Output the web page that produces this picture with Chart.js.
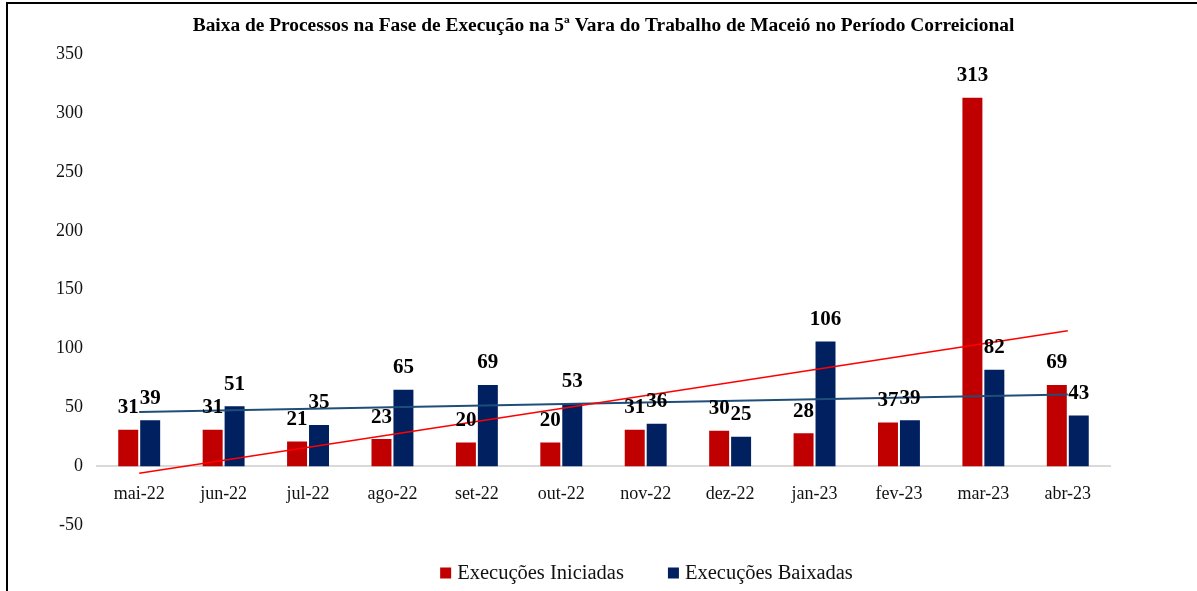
<!DOCTYPE html>
<html lang="pt-BR">
<head>
<meta charset="utf-8">
<title>Baixa de Processos - 5ª Vara do Trabalho de Maceió</title>
<script src="https://cdn.jsdelivr.net/npm/chart.js@4.4.1/dist/chart.umd.min.js"></script>
<style>
  html, body { margin: 0; padding: 0; background: #fff; }
  #quadro { position: absolute; left: 0; top: 0; width: 1197px; height: 591px; }
  #moldura {
    position: absolute; left: 6px; top: 2px; right: 0; bottom: 0;
    border-left: 2px solid #000; border-top: 2px solid #000;
    pointer-events: none;
  }
</style>
</head>
<body>
<div id="quadro">
  <canvas id="grafico" width="1197" height="591"></canvas>
  <div id="moldura"></div>
</div>
<script>
// meses do período correicional
const meses = ['mai-22', 'jun-22', 'jul-22', 'ago-22', 'set-22', 'out-22',
               'nov-22', 'dez-22', 'jan-23', 'fev-23', 'mar-23', 'abr-23'];

// quantidades por mês
const iniciadas = [31, 31, 21, 23, 20, 20, 31, 30, 28, 37, 313, 69];
const baixadas  = [39, 51, 35, 65, 69, 53, 36, 25, 106, 39, 82, 43];

// linhas de tendência (valor no primeiro e no último mês)
const tendIniciadas = [-6, 115];
const tendBaixadas  = [46, 61];

// eixo y
const yMin = -50, yMax = 350, yPasso = 50;

const vermelho = '#C00000';
const azul = '#002060';

Chart.defaults.font.family = '"Liberation Serif", "Times New Roman", serif';
Chart.defaults.color = '#111';

// rótulos com o valor em cima de cada barra
const rotulos = {
  id: 'rotulos',
  afterDatasetsDraw(chart) {
    const ctx = chart.ctx;
    ctx.save();
    ctx.font = 'bold 21px "Liberation Serif", serif';
    ctx.fillStyle = '#000';
    ctx.textAlign = 'center';
    ctx.textBaseline = 'middle';
    chart.data.datasets.forEach((ds, i) => {
      if (ds.type !== 'bar') return;
      chart.getDatasetMeta(i).data.forEach((barra, j) => {
        ctx.fillText(String(ds.data[j]), barra.x, barra.y - 22);
      });
    });
    ctx.restore();
  }
};

// legenda desenhada à mão, só com as séries de barras
const legenda = {
  id: 'legenda',
  afterDraw(chart) {
    const ctx = chart.ctx;
    const itens = chart.data.datasets.filter(ds => ds.type === 'bar');
    const caixa = 11, folga = 6, entre = 44;
    ctx.save();
    ctx.font = '20.5px "Liberation Serif", serif';
    ctx.textBaseline = 'middle';
    let total = 0;
    itens.forEach((ds, i) => {
      total += caixa + folga + ctx.measureText(ds.label).width;
      if (i > 0) total += entre;
    });
    const area = chart.chartArea;
    let x = (area.left + area.right) / 2 + 43 - total / 2;
    const y = 573;
    itens.forEach(ds => {
      ctx.fillStyle = ds.backgroundColor;
      ctx.fillRect(x, y - caixa / 2, caixa, caixa);
      x += caixa + folga;
      ctx.fillStyle = '#111';
      ctx.fillText(ds.label, x, y + 1);
      x += ctx.measureText(ds.label).width + entre;
    });
    ctx.restore();
  }
};

new Chart(document.getElementById('grafico'), {
  data: {
    labels: meses,
    datasets: [
      {
        type: 'line',
        label: 'Tendência Iniciadas',
        data: [
          { x: meses[0], y: tendIniciadas[0] },
          { x: meses[meses.length - 1], y: tendIniciadas[1] }
        ],
        borderColor: '#FF0000',
        borderWidth: 1.6,
        pointRadius: 0,
        order: 0
      },
      {
        type: 'line',
        label: 'Tendência Baixadas',
        data: [
          { x: meses[0], y: tendBaixadas[0] },
          { x: meses[meses.length - 1], y: tendBaixadas[1] }
        ],
        borderColor: '#1F4E79',
        borderWidth: 2,
        pointRadius: 0,
        order: 0
      },
      {
        type: 'bar',
        label: 'Execuções Iniciadas',
        data: iniciadas,
        backgroundColor: vermelho,
        categoryPercentage: 0.52,
        barPercentage: 0.91,
        order: 1
      },
      {
        type: 'bar',
        label: 'Execuções Baixadas',
        data: baixadas,
        backgroundColor: azul,
        categoryPercentage: 0.52,
        barPercentage: 0.91,
        order: 1
      }
    ]
  },
  options: {
    responsive: false,
    maintainAspectRatio: false,
    animation: false,
    layout: { padding: { left: 0, right: 87, top: 0, bottom: 66 } },
    plugins: {
      legend: { display: false },
      tooltip: { enabled: false },
      title: {
        display: true,
        fullSize: false,
        text: 'Baixa de Processos na Fase de Execução na 5ª Vara do Trabalho de Maceió no Período Correicional',
        font: { size: 19.4, weight: 'bold' },
        color: '#000',
        padding: { top: 14, bottom: 17 }
      }
    },
    scales: {
      x: {
        position: { y: 0 },
        grid: { display: false },
        border: { display: true, color: '#d9d9d9', width: 2 },
        ticks: { font: { size: 18 }, color: '#111', padding: 9 }
      },
      y: {
        min: yMin,
        max: yMax,
        grid: { display: false },
        border: { display: false },
        ticks: { stepSize: yPasso, font: { size: 18 }, color: '#111', padding: 6 },
        afterFit(escala) { escala.width = 97; }
      }
    }
  },
  plugins: [rotulos, legenda]
});
</script>
</body>
</html>
